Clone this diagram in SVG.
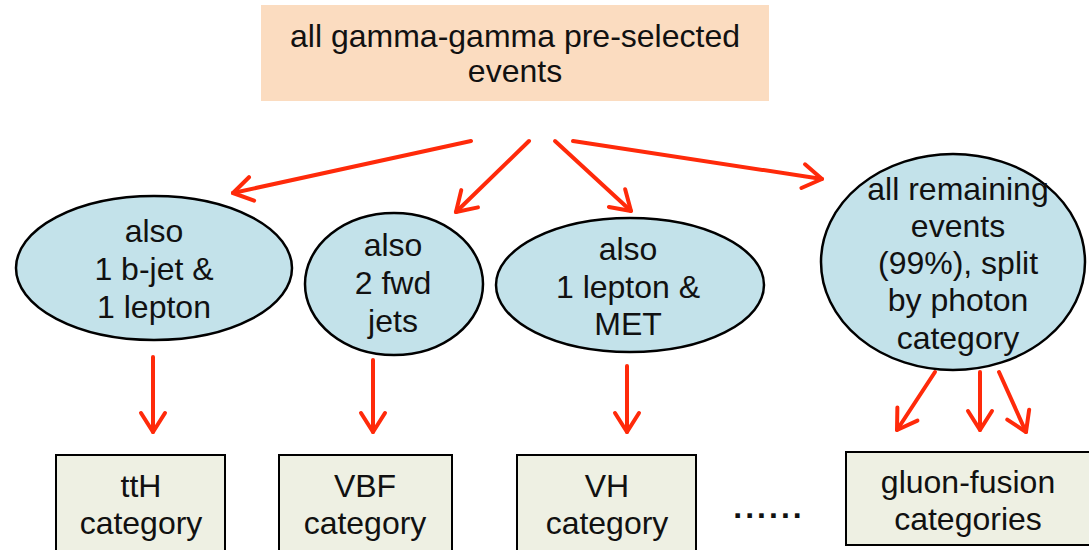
<svg xmlns="http://www.w3.org/2000/svg" width="1089" height="550" viewBox="0 0 1089 550">
<style>
text{font-family:"Liberation Sans",Arial,sans-serif;font-size:32px;fill:#111;text-anchor:middle}
.ell{fill:#c3e2ea;stroke:#000;stroke-width:2.5}
.cat{fill:#eef0e3;stroke:#000;stroke-width:2}
.top{fill:#fbdcc0}
.arr{stroke:#ff2a0a;stroke-width:4;fill:none;stroke-linecap:round;marker-end:url(#ah)}
</style>
<defs>
<marker id="ah" markerUnits="userSpaceOnUse" viewBox="-24 -16 28 32" markerWidth="28" markerHeight="32" refX="0" refY="0" orient="auto">
<path d="M-19,-12 L0,0 L-19,12" fill="none" stroke="#ff2a0a" stroke-width="4" stroke-linecap="round" stroke-linejoin="round"/>
</marker>
</defs>
<g id="n-top">
<rect class="top" x="261" y="5" width="508" height="96"/>
<text x="515" y="47">all gamma-gamma pre-selected</text>
<text x="515" y="82">events</text>
</g>
<g id="n-ttHsel">
<ellipse class="ell" cx="154" cy="268" rx="138" ry="72"/>
<text x="154" y="242">also</text>
<text x="154" y="280">1 b-jet &amp;</text>
<text x="154" y="318">1 lepton</text>
</g>
<g id="n-vbfsel">
<ellipse class="ell" cx="394" cy="284" rx="89" ry="71"/>
<text x="393" y="256">also</text>
<text x="393" y="294">2 fwd</text>
<text x="393" y="332">jets</text>
</g>
<g id="n-vhsel">
<ellipse class="ell" cx="630" cy="285" rx="134" ry="67"/>
<text x="628" y="260">also</text>
<text x="628" y="298">1 lepton &amp;</text>
<text x="628" y="335">MET</text>
</g>
<g id="n-rest">
<ellipse class="ell" cx="953" cy="262" rx="132" ry="108"/>
<text x="958" y="200">all remaining</text>
<text x="958" y="237">events</text>
<text x="958" y="274">(99%), split</text>
<text x="958" y="311">by photon</text>
<text x="958" y="349">category</text>
</g>
<g id="n-tth">
<rect class="cat" x="56" y="455" width="169" height="100"/>
<text x="141" y="497">ttH</text>
<text x="141" y="534">category</text>
</g>
<g id="n-vbf">
<rect class="cat" x="279" y="455" width="173" height="100"/>
<text x="365" y="497">VBF</text>
<text x="365" y="534">category</text>
</g>
<g id="n-vh">
<rect class="cat" x="517" y="455" width="179" height="100"/>
<text x="607" y="497">VH</text>
<text x="607" y="534">category</text>
</g>
<g id="n-dots">
<text x="769" y="518" style="letter-spacing:3px;font-weight:bold">......</text>
</g>
<g id="n-ggf">
<rect class="cat" x="846" y="452" width="245" height="93"/>
<text x="968" y="493">gluon-fusion</text>
<text x="968" y="530">categories</text>
</g>
<g id="connectors">
<line class="arr" x1="471" y1="141" x2="233" y2="193"/>
<line class="arr" x1="529" y1="141" x2="456" y2="212"/>
<line class="arr" x1="555" y1="141" x2="631" y2="211"/>
<line class="arr" x1="573" y1="141" x2="822" y2="179"/>
<line class="arr" x1="153" y1="357" x2="153" y2="432"/>
<line class="arr" x1="373" y1="360" x2="373" y2="432"/>
<line class="arr" x1="627" y1="366" x2="627" y2="432"/>
<line class="arr" x1="935" y1="372" x2="897" y2="430"/>
<line class="arr" x1="980" y1="372" x2="980" y2="430"/>
<line class="arr" x1="999" y1="372" x2="1026" y2="432"/>
</g>
</svg>
